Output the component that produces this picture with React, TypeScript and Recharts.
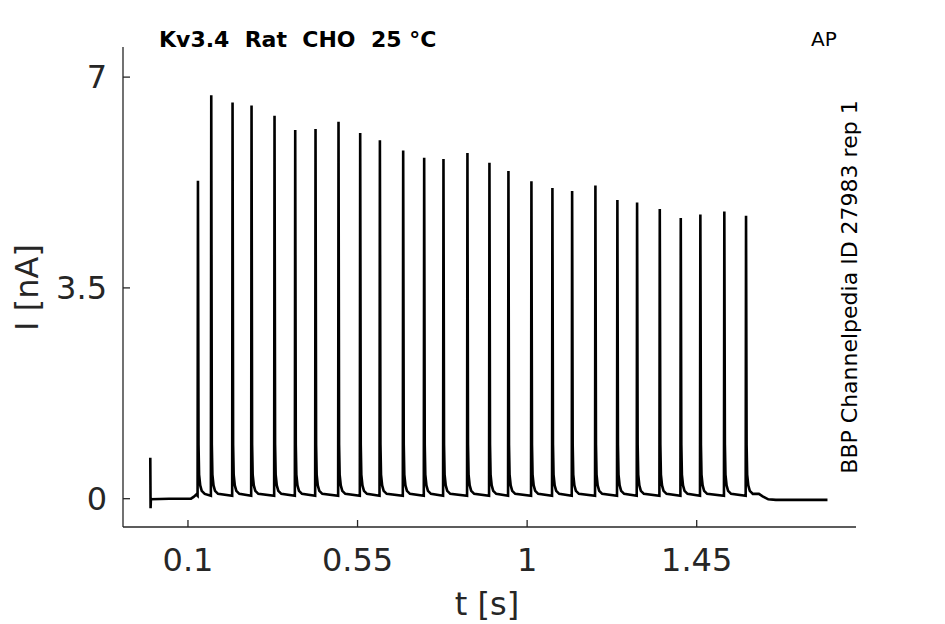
import React from 'react';
import { LineChart, Line, XAxis, YAxis } from 'recharts';

// spike times [s] and peak currents [nA]
const spikeTimes = [
  0.1265, 0.1618, 0.2183, 0.2687, 0.3297, 0.3846, 0.4385, 0.4995, 0.557,
  0.6093, 0.6711, 0.7268, 0.778, 0.8416, 0.9, 0.9504, 1.0114, 1.0671,
  1.1194, 1.1812, 1.2395, 1.2918, 1.352, 1.4077, 1.4597, 1.5233, 1.5809,
];
const spikePeaks = [
  5.28, 6.7, 6.58, 6.53, 6.36, 6.12, 6.14, 6.26, 6.07, 5.95, 5.78, 5.66,
  5.64, 5.74, 5.58, 5.44, 5.27, 5.16, 5.11, 5.2, 4.96, 4.92, 4.81, 4.66,
  4.72, 4.77, 4.7,
];
// decay after each peak: time offset [s] and current [nA]
const tailOffsets = [0.0015, 0.003, 0.006, 0.01, 0.018];
const tailValues = [0.9, 0.4, 0.22, 0.13, 0.08];
const preSpikeValue = 0.05;

// trace before the first spike (artifact + holding) and after the last one
const leadIn = [
  { t: 0, i: 0.68 },
  { t: 0.0008, i: -0.16 },
  { t: 0.0016, i: -0.01 },
  { t: 0.05, i: 0.0 },
  { t: 0.108, i: 0.0 },
  { t: 0.115, i: 0.03 },
  { t: 0.122, i: 0.07 },
];
const leadOut = [
  { t: 1.615, i: 0.08 },
  { t: 1.625, i: 0.04 },
  { t: 1.64, i: -0.01 },
  { t: 1.66, i: -0.02 },
  { t: 1.797, i: -0.02 },
];

const xTicks = [0.1, 0.55, 1, 1.45];
const yTicks = [0, 3.5, 7];

const trace: { t: number; i: number }[] = [...leadIn];
spikeTimes.forEach((t0, k) => {
  trace.push({ t: t0 - 0.001, i: preSpikeValue });
  trace.push({ t: t0, i: spikePeaks[k] });
  tailOffsets.forEach((dt, j) => trace.push({ t: t0 + dt, i: tailValues[j] }));
});
trace.push(...leadOut);

const axisColor = '#262626';
const font = 'DejaVu Sans';

export default function App() {
  return (
    <div style={{ position: 'absolute', left: 0, top: 0, width: 945, height: 624, background: '#fff' }}>
      <LineChart width={945} height={624} data={trace} margin={{ top: 47, right: 89, bottom: 37, left: 43 }}>
        <XAxis
          dataKey="t"
          type="number"
          domain={[-0.0724, 1.8727]}
          ticks={xTicks}
          tickFormatter={(v) => String(v)}
          allowDataOverflow
          height={60}
          tickSize={-7}
          tickMargin={28}
          stroke={axisColor}
          strokeWidth={1.3}
          tick={{ fill: axisColor, fontSize: 32, fontFamily: font }}
        />
        <YAxis
          type="number"
          domain={[-0.47, 7.5]}
          ticks={yTicks}
          tickFormatter={(v) => String(v)}
          allowDataOverflow
          width={80}
          tickSize={-7}
          tickMargin={23}
          stroke={axisColor}
          strokeWidth={1.3}
          tick={{ fill: axisColor, fontSize: 32, fontFamily: font }}
        />
        <Line
          dataKey="i"
          type="linear"
          stroke="#000"
          strokeWidth={2.6}
          dot={false}
          activeDot={false}
          isAnimationActive={false}
        />
      </LineChart>
      <svg
        width={945}
        height={624}
        style={{ position: 'absolute', left: 0, top: 0, pointerEvents: 'none' }}
        fontFamily={font}
      >
        <text x={159} y={47} fontSize={22} fontWeight="bold" fill="#000" style={{ whiteSpace: 'pre' }}>
          {'Kv3.4  Rat  CHO  25 °C'}
        </text>
        <text x={811} y={46} fontSize={20} fill="#000">AP</text>
        <text
          x={0}
          y={0}
          fontSize={22}
          fill="#000"
          textAnchor="middle"
          transform="translate(857 287) rotate(-90)"
        >
          BBP Channelpedia ID 27983 rep 1
        </text>
        <text x={487} y={615} fontSize={32} fill={axisColor} textAnchor="middle">
          t [s]
        </text>
        <text
          x={0}
          y={0}
          fontSize={32}
          fill={axisColor}
          textAnchor="middle"
          transform="translate(38 287.5) rotate(-90)"
        >
          I [nA]
        </text>
      </svg>
    </div>
  );
}
